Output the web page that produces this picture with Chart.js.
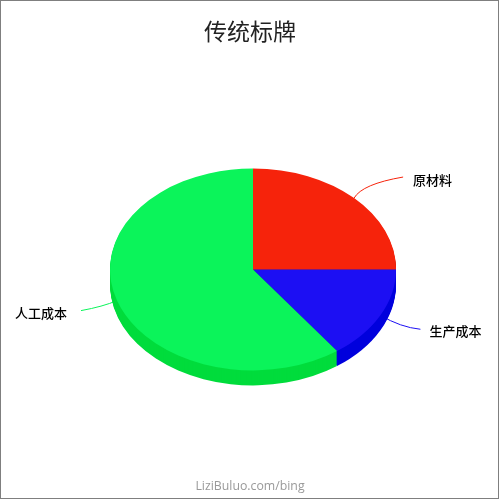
<!DOCTYPE html>
<html>
<head>
<meta charset="utf-8">
<script src="https://cdn.jsdelivr.net/npm/chart.js@4"></script>
<style>
    html, body { margin: 0; padding: 0; background: #fff; }
    #wrap { position: relative; width: 500px; height: 500px; }
    #wrap::after {
        content: ''; position: absolute; left: 0; top: 0; width: 497px; height: 497px;
        border: 1px solid #7f7f7f; pointer-events: none;
    }
</style>
</head>
<body>
<div id="wrap"><canvas id="chart" width="500" height="500"></canvas></div>
<script>
const chartTitle = '传统标牌';
const watermark = 'LiziBuluo.com/bing';
const categories = ['原材料', '生产成本', '人工成本'];
const values = [25, 15, 60];
const sliceColors = ['#f6230b', '#1c0ff3', '#0bf45a'];
const sideColors = ['#d01a05', '#0000dd', '#00dc3c'];

const FONT = '"Noto Sans CJK SC", "Noto Sans", sans-serif';
const SQUASH = 0.706; // pie is tilted, circle becomes an ellipse
const DEPTH = 15;
const SHIFT_X = 3; // pie sits a little right of the title

// Leader line per slice: control point and end, relative to the rim point, then the label start
const leaders = [
    { cx: 8, cy: -14, ex: 49, ey: -21, tx: 59, ty: -18 },
    { cx: 20, cy: 12, ex: 40, ey: 14, tx: 49, ty: 16 },
    { cx: -14, cy: 6, ex: -36, ey: 10, tx: -102, ty: 12 },
];

const tiltPlugin = {
    id: 'tilt',
    beforeDatasetsDraw(chart) {
        const ctx = chart.ctx;
        const arcs = chart.getDatasetMeta(0).data;
        const x = arcs[0].x, y = arcs[0].y, r = arcs[0].outerRadius;

        ctx.save();
        ctx.translate(SHIFT_X, 0);

        // leader lines and labels, under the pie
        ctx.save();
        arcs.forEach((arc, i) => {
            const mid = (arc.startAngle + arc.endAngle) / 2;
            const px = x + r * Math.cos(mid);
            const py = y + r * SQUASH * Math.sin(mid);
            const l = leaders[i];
            ctx.strokeStyle = sliceColors[i];
            ctx.lineWidth = 1;
            ctx.beginPath();
            ctx.moveTo(px, py);
            ctx.quadraticCurveTo(px + l.cx, py + l.cy, px + l.ex, py + l.ey);
            ctx.stroke();
            ctx.fillStyle = '#000';
            ctx.font = '500 13px ' + FONT;
            ctx.textAlign = 'left';
            ctx.textBaseline = 'middle';
            ctx.fillText(categories[i], px + l.tx, py + l.ty);
        });

        // extruded side, stacked from the bottom up
        for (let d = DEPTH; d >= 1; d--) {
            arcs.forEach((arc, i) => {
                ctx.fillStyle = sideColors[i];
                ctx.beginPath();
                ctx.moveTo(x, y + d);
                ctx.ellipse(x, y + d, r, r * SQUASH, 0, arc.startAngle, arc.endAngle);
                ctx.closePath();
                ctx.fill();
            });
        }
        ctx.restore();

        ctx.translate(x, y);
        ctx.scale(1, SQUASH);
        ctx.translate(-x, -y);
    },
    afterDatasetsDraw(chart) {
        chart.ctx.restore();
    }
};

new Chart(document.getElementById('chart'), {
    type: 'pie',
    data: {
        labels: categories,
        datasets: [{
            data: values,
            backgroundColor: sliceColors,
            borderWidth: 0,
            hoverOffset: 0,
        }]
    },
    options: {
        responsive: false,
        animation: false,
        radius: 143,
        plugins: {
            legend: { display: false },
            tooltip: { enabled: false },
            title: {
                display: true,
                text: chartTitle,
                color: '#222',
                font: { family: FONT, size: 23, weight: 'normal' },
                padding: { top: 17, bottom: 19 },
            },
            subtitle: {
                display: true,
                text: watermark,
                position: 'bottom',
                color: '#999',
                font: { family: '"Open Sans", sans-serif', size: 12.3, weight: 'normal' },
                padding: { top: 4, bottom: 6 },
            },
        }
    },
    plugins: [tiltPlugin]
});
</script>
</body>
</html>
